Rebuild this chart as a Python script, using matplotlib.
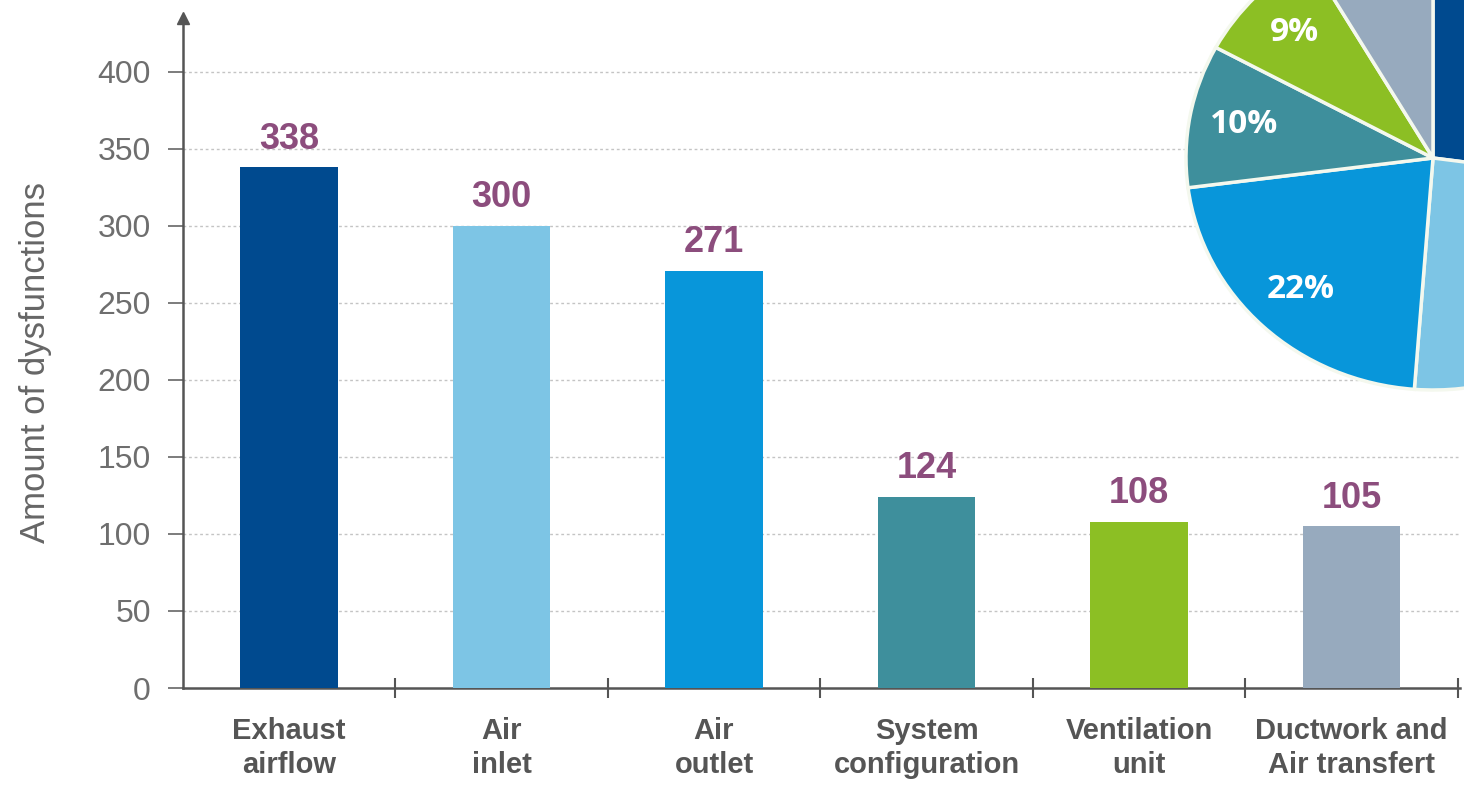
import matplotlib
matplotlib.use('Agg')
import matplotlib.pyplot as plt
import numpy as np

# Data
categories = ['Exhaust\nairflow', 'Air\ninlet', 'Air\noutlet',
              'System\nconfiguration', 'Ventilation\nunit', 'Ductwork and\nAir transfert']
values = [338, 300, 271, 124, 108, 105]
bar_colors = ['#004a8f', '#7dc5e5', '#0896da', '#3e8f9c', '#8cbf24', '#97aabe']
yticks = [0, 50, 100, 150, 200, 250, 300, 350, 400]

W, H = 1464, 785
fig = plt.figure(figsize=(W / 100, H / 100), dpi=100)

# Bar chart
ax = fig.add_axes([182.7 / W, 97 / H, (1460 - 182.7) / W, 673 / H])
x = np.arange(len(values))
ax.bar(x, values, width=0.46, color=bar_colors, zorder=3)
ax.set_xlim(-0.5, 5.51)
ax.set_ylim(0, 437)

for xi, v in zip(x, values):
    ax.text(xi, v + 7, str(v), ha='center', va='bottom', fontsize=26,
            color='#8c4d7d', family='Liberation Sans', fontweight='bold',
            zorder=4)

ax.set_yticks(yticks)
ax.set_yticklabels([str(t) for t in yticks], fontsize=23, color='#6e6e6e',
                   family='Liberation Sans')
ax.tick_params(axis='y', length=11, width=1.2, color='#666666', pad=12)

ax.set_xticks(x)
ax.set_xticklabels(categories, fontsize=21, fontweight='bold', color='#555555',
                   family='Liberation Sans', linespacing=1.25)
ax.set_xticks(np.arange(0.5, 6, 1), minor=True)
ax.tick_params(axis='x', which='major', length=0, pad=21)
ax.tick_params(axis='x', which='minor', length=14, width=1.5, direction='inout',
               color='#555555')

ax.grid(axis='y', linestyle=(0, (2, 2)), color='#c4c4c4', linewidth=1, zorder=0)
for t in ax.yaxis.get_gridlines()[:1]:
    t.set_visible(False)

for s in ['top', 'right']:
    ax.spines[s].set_visible(False)
for s in ['left', 'bottom']:
    ax.spines[s].set_color('#555555')
    ax.spines[s].set_linewidth(1.8)
ax.plot(0, 0.995, marker='^', markersize=9, color='#555555', transform=ax.transAxes,
        clip_on=False)

ax.set_ylabel('Amount of dysfunctions', fontsize=25, color='#666666',
              family='Liberation Sans')
ax.yaxis.set_label_coords(-0.102, 0.484)

# Pie chart (top right, cut off by figure edge)
cx, cy, rx, ry = 1433, 158, 247, 232
pax = fig.add_axes([(cx - rx) / W, (H - cy - ry) / H, 2 * rx / W, 2 * ry / H], zorder=5)
pax.patch.set_alpha(0)
wedges, texts, autotexts = pax.pie(
    values, colors=bar_colors, startangle=90, counterclock=False,
    autopct='%.0f%%', pctdistance=0.78, radius=1,
    wedgeprops=dict(edgecolor='#f4f8ee', linewidth=2.5),
    textprops=dict(color='white', fontsize=24, fontweight='bold', family='Open Sans'))
pax.set_aspect('auto')
pax.set_xlim(-1, 1)
pax.set_ylim(-1, 1)
pax.axis('off')

fig.savefig('out.png', dpi=100)
